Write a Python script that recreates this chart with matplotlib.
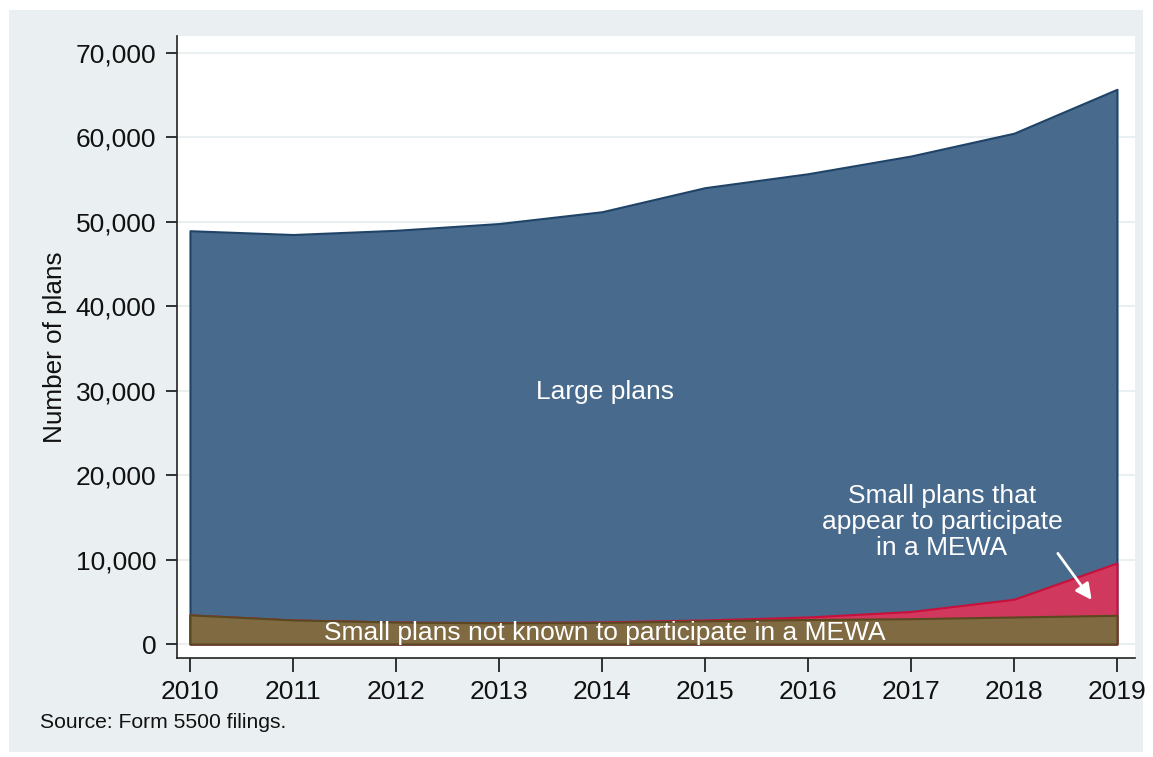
import numpy as np
import matplotlib
matplotlib.use("Agg")
from matplotlib import pyplot as plt
from matplotlib.patches import Rectangle

plt.rcParams['font.family'] = ['Liberation Sans', 'DejaVu Sans']

# data (number of plans)
years = [2010, 2011, 2012, 2013, 2014, 2015, 2016, 2017, 2018, 2019]
small_no_mewa = [3450, 2850, 2600, 2500, 2550, 2750, 2900, 3000, 3200, 3400]
small_mewa = [0, 0, 0, 30, 60, 100, 300, 850, 2100, 6200]
total_plans = [48950, 48500, 49000, 49800, 51200, 54050, 55700, 57800, 60500, 65700]
yticks = [0, 10000, 20000, 30000, 40000, 50000, 60000, 70000]

small_no_mewa = np.array(small_no_mewa)
small_top = small_no_mewa + np.array(small_mewa)
total_plans = np.array(total_plans)

W, H = 1153, 757
f = plt.figure(figsize=(W / 100, H / 100), dpi=100, facecolor='white')

# stata-like outer graph region (behind the axes)
f.patches.append(Rectangle((9 / W, 1 - 752 / H), (1143 - 9) / W, (752 - 10) / H,
                           transform=f.transFigure, facecolor='#EAF0F2',
                           edgecolor='none', zorder=-1))

ax1 = f.add_axes([177 / W, 1 - 658 / H, (1135 - 177) / W, (658 - 36) / H])
ax1.set_facecolor('white')

# areas: total first, then small plans (all), then small plans not in a MEWA
ax1.fill_between(years, 0, total_plans, facecolor='#486A8C', edgecolor='#1F4468',
                 linewidth=1.5, zorder=2)
ax1.fill_between(years, 0, small_top, facecolor='#D0385E', edgecolor='#C8103A',
                 linewidth=1.5, zorder=3)
ax1.fill_between(years, 0, small_no_mewa, facecolor='#7F6A42', edgecolor='#5A4820',
                 linewidth=1.5, zorder=4)

ax1.set_xlim(2009.874, 2019.175)
ax1.set_ylim(-1658, 72013)
ax1.set_xticks(years)
ax1.set_yticks(yticks)
ax1.set_yticklabels(['{:,}'.format(v) for v in yticks])
ax1.yaxis.grid(True, color='#EAF0F2', linewidth=1.5, zorder=0)
ax1.set_axisbelow(True)

for s in ['top', 'right']:
    ax1.spines[s].set_visible(False)
for s in ['left', 'bottom']:
    ax1.spines[s].set_color('#222222')
    ax1.spines[s].set_linewidth(1.2)

ax1.tick_params(axis='y', length=8, width=1.2, pad=7, labelsize=19, colors='#111111')
ax1.tick_params(axis='x', length=10, width=1.2, pad=6, labelsize=19, colors='#111111')

ax1.set_ylabel('Number of plans', fontsize=18.8, color='#111111')
ax1.yaxis.set_label_coords(-0.115, 0.499)

# labels inside the areas
ax1.text(2014.03, 29850, 'Large plans', color='white', fontsize=19,
         ha='center', va='center', zorder=6)
ax1.text(2014.03, 1250, 'Small plans not known to participate in a MEWA', color='white',
         fontsize=19, ha='center', va='center', zorder=6)
ax1.text(2017.30, 14450, 'Small plans that\nappear to participate\nin a MEWA', color='white',
         fontsize=19, ha='center', va='center', linespacing=1.08, zorder=6)
ax1.annotate('', xy=(2018.77, 4950), xytext=(2018.41, 11000),
             arrowprops=dict(arrowstyle='-|>', color='white', lw=2,
                             mutation_scale=24), zorder=6)

f.text(40 / W, 1 - 722 / H, 'Source: Form 5500 filings.', fontsize=15.2,
       color='#111111', ha='left', va='center')

plt.savefig('out.png', dpi=100, facecolor='white')
